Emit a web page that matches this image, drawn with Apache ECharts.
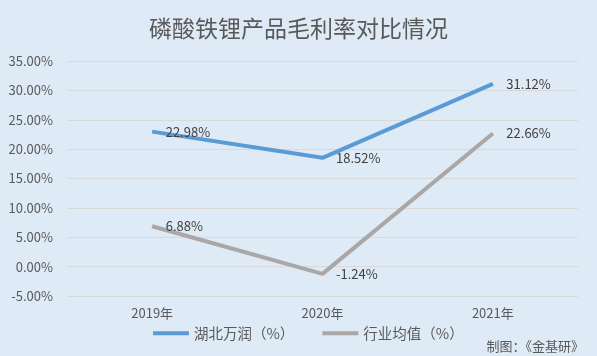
<!DOCTYPE html>
<html><head><meta charset="utf-8">
<script src="https://cdn.jsdelivr.net/npm/echarts@6/dist/echarts.min.js"></script>
<style>html,body{margin:0;padding:0;background:#DEEAF6;}#c{width:597px;height:356px;}</style>
</head><body><div id="c"></div>
<script>
const categories = ['2019年', '2020年', '2021年'];
const hubeiWanrun = [22.98, 18.52, 31.12];
const industryAvg = [6.88, -1.24, 22.66];
const seriesNames = ['湖北万润（%）', '行业均值（%）'];
const titleText = '磷酸铁锂产品毛利率对比情况';
const sourceText = '制图：《金基研》';

const font = '"Noto Sans CJK SC","Microsoft YaHei",sans-serif';
const chart = echarts.init(document.getElementById('c'));
const lbl = {
  show: true, position: 'right', distance: 13,
  formatter: p => p.value.toFixed(2) + '%',
  color: '#404040', fontSize: 13, fontFamily: font
};
chart.setOption({
  backgroundColor: '#DEEAF6',
  animation: false,
  title: [{
    text: titleText, left: 'center', top: 12,
    textStyle: { color: '#595959', fontSize: 23, fontWeight: 'normal', fontFamily: font }
  }, {
    text: sourceText, right: 8, top: 335,
    textStyle: { color: '#595959', fontSize: 13, fontWeight: 'normal', fontFamily: font }
  }],
  legend: {
    top: 321, left: 148, itemGap: 28, itemWidth: 36, itemHeight: 4,
    icon: 'rect',
    textStyle: { color: '#595959', fontSize: 14.5, fontFamily: font },
    data: seriesNames
  },
  grid: { left: 67, right: 19, top: 61, bottom: 60 },
  xAxis: {
    type: 'category', data: categories, boundaryGap: true,
    axisLine: { show: true, onZero: true, lineStyle: { color: '#D9D9D9' } },
    axisTick: { show: false },
    axisLabel: { color: '#595959', fontSize: 13, fontFamily: font, margin: 11 }
  },
  yAxis: {
    type: 'value', min: -5, max: 35, interval: 5,
    axisLine: { show: false }, axisTick: { show: false },
    axisLabel: { color: '#595959', fontSize: 13, fontFamily: font, margin: 14,
      formatter: v => v.toFixed(2) + '%' },
    splitLine: { lineStyle: { color: '#D9D9D9', width: 1 } }
  },
  series: [{
    name: seriesNames[0], type: 'line', data: hubeiWanrun,
    symbol: 'circle', symbolSize: 1, showSymbol: true,
    lineStyle: { color: '#5B9BD5', width: 4 }, itemStyle: { color: '#5B9BD5' },
    label: lbl
  }, {
    name: seriesNames[1], type: 'line', data: industryAvg,
    symbol: 'circle', symbolSize: 1, showSymbol: true,
    lineStyle: { color: '#ABA7A7', width: 4 }, itemStyle: { color: '#ABA7A7' },
    label: lbl
  }]
});
</script></body></html>
